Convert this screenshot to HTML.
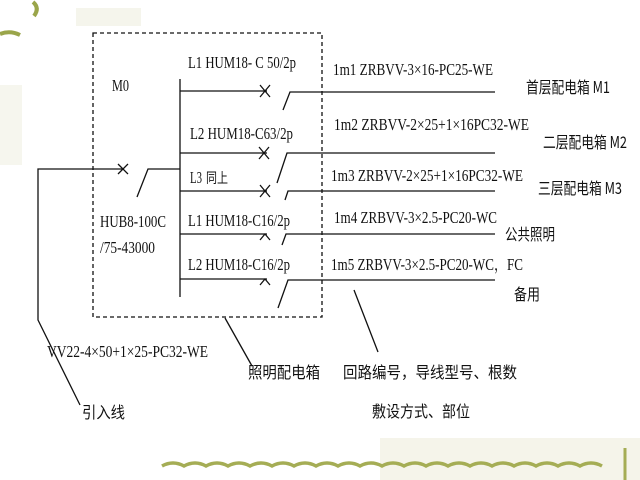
<!DOCTYPE html>
<html><head><meta charset="utf-8"><style>
html,body{margin:0;padding:0;background:#fff;}
svg{display:block}
.t{font-family:"Liberation Serif","Noto Serif CJK SC",serif;font-size:17px;fill:#111;}
.c{font-family:"Noto Sans CJK SC","Liberation Sans",sans-serif;font-size:16px;fill:#111;}
</style></head><body>
<svg width="640" height="480" viewBox="0 0 640 480" xmlns="http://www.w3.org/2000/svg">
<rect width="640" height="480" fill="#fff"/>
<rect x="0" y="85" width="22" height="80" fill="#f6f6ee"/>
<rect x="76" y="8" width="65" height="18" fill="#f5f5ec"/>
<path d="M33 2 Q40 8 34 16" stroke="#9aa54a" stroke-width="4" fill="none"/>
<path d="M0 34 Q10 30 20 35" stroke="#9aa54a" stroke-width="4" fill="none"/>
<rect x="380" y="438" width="260" height="42" fill="#f5f4ea"/>
<path d="M162 466 q11 -6 22 0 q11 -6 22 0 q11 -6 22 0 q11 -6 22 0 q11 -6 22 0 q11 -6 22 0 q11 -6 22 0 q11 -6 22 0 q11 -6 22 0 q11 -6 22 0 q11 -6 22 0 q11 -6 22 0 q11 -6 22 0 q11 -6 22 0 q11 -6 22 0 q11 -6 22 0 q11 -6 22 0 q11 -6 22 0 q11 -6 22 0 q11 -6 22 0" stroke="#a5ad55" stroke-width="3.5" fill="none"/>
<path d="M625 448 L625 480" stroke="#a5ad55" stroke-width="3"/>
<g stroke="#111" stroke-width="1.3" fill="none">
<rect x="93" y="33" width="229" height="284" stroke-dasharray="4,3"/>
<path d="M80 405 L38 320 L38 169 L123 169"/>
<path d="M118 164 L128 174 M128 164 L118 174"/>
<path d="M137 197 L148 169 L180 169"/>
<path d="M180 79 L180 297"/>
<path d="M180 91 L267 91 M260 85 L270 97 M270 85 L260 97 M283 110 L290 92 L495 92"/>
<path d="M180 153 L267 153 M259 147 L269 159 M269 147 L259 159 M277 183 L287 153 L495 153"/>
<path d="M180 191 L267 191 M260 185 L270 197 M270 185 L260 197 M285 200 L288 191 L495 191"/>
<path d="M180 234 L267 234 M260 240 L265 234 L270 240 M282 245 L286 234 L495 234"/>
<path d="M180 279 L267 279 M260 285 L265 279 L270 285 M278 308 L288 280 L495 280"/>
<path d="M225 318 L252 366"/>
<path d="M354 290 L378 352"/>
</g>
<g class="t">
<text x="188" y="68" textLength="108" lengthAdjust="spacingAndGlyphs">L1 HUM18- C 50/2p</text>
<text x="112" y="91" textLength="17" lengthAdjust="spacingAndGlyphs">M0</text>
<text x="190" y="139" textLength="103" lengthAdjust="spacingAndGlyphs">L2 HUM18-C63/2p</text>
<text x="190" y="183" textLength="12" lengthAdjust="spacingAndGlyphs">L3</text><text x="206" y="183" class="c" style="font-size:14px" textLength="22" lengthAdjust="spacingAndGlyphs">同上</text>
<text x="100" y="227" textLength="66" lengthAdjust="spacingAndGlyphs">HUB8-100C</text>
<text x="100" y="253" textLength="55" lengthAdjust="spacingAndGlyphs">/75-43000</text>
<text x="188" y="226" textLength="102" lengthAdjust="spacingAndGlyphs">L1 HUM18-C16/2p</text>
<text x="188" y="270" textLength="102" lengthAdjust="spacingAndGlyphs">L2 HUM18-C16/2p</text>
<text x="333" y="75" textLength="160" lengthAdjust="spacingAndGlyphs">1m1 ZRBVV-3×16-PC25-WE</text>
<text x="334" y="130" textLength="195" lengthAdjust="spacingAndGlyphs">1m2 ZRBVV-2×25+1×16PC32-WE</text>
<text x="331" y="181" textLength="192" lengthAdjust="spacingAndGlyphs">1m3 ZRBVV-2×25+1×16PC32-WE</text>
<text x="334" y="223" textLength="163" lengthAdjust="spacingAndGlyphs">1m4 ZRBVV-3×2.5-PC20-WC</text>
<text x="331" y="270" textLength="192" lengthAdjust="spacingAndGlyphs">1m5 ZRBVV-3×2.5-PC20-WC，FC</text>
<text x="47" y="357" textLength="161" lengthAdjust="spacingAndGlyphs">VV22-4×50+1×25-PC32-WE</text>
</g>
<g class="c">
<text x="526" y="93" textLength="84" lengthAdjust="spacingAndGlyphs">首层配电箱 M1</text>
<text x="543" y="148" textLength="84" lengthAdjust="spacingAndGlyphs">二层配电箱 M2</text>
<text x="538" y="194" textLength="84" lengthAdjust="spacingAndGlyphs">三层配电箱 M3</text>
<text x="505" y="240" textLength="50" lengthAdjust="spacingAndGlyphs">公共照明</text>
<text x="514" y="300" textLength="26" lengthAdjust="spacingAndGlyphs">备用</text>
<text x="248" y="378" textLength="72" lengthAdjust="spacingAndGlyphs">照明配电箱</text>
<text x="343" y="378" textLength="174" lengthAdjust="spacingAndGlyphs">回路编号，导线型号、根数</text>
<text x="372" y="417" textLength="98" lengthAdjust="spacingAndGlyphs">敷设方式、部位</text>
<text x="82" y="418" textLength="43" lengthAdjust="spacingAndGlyphs">引入线</text>
</g>
</svg>
</body></html>
